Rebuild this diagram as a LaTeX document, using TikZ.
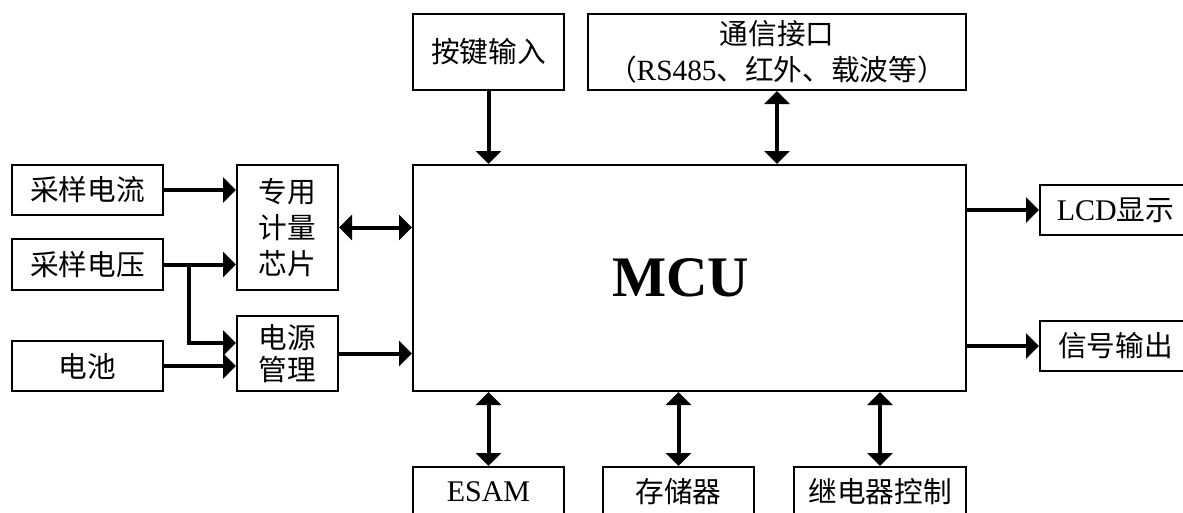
\documentclass[tikz,border=0pt]{standalone}
\usepackage{fontspec}
\setmainfont{Liberation Serif}
\newfontfamily\cjk{Noto Sans CJK SC}
\usetikzlibrary{arrows.meta,calc}
\newcommand\zhtxt[1]{{\cjk #1}}
\tikzset{
  box/.style={draw, line width=1.5pt, inner sep=0pt, align=center,
    font=\fontsize{21.5}{25}\selectfont},
  arr/.style={line width=3pt, -{Triangle[length=9.75pt,width=18.75pt]}},
  darr/.style={line width=3pt, {Triangle[length=9.75pt,width=18.75pt]}-{Triangle[length=9.75pt,width=18.75pt]}}
}
\begin{document}
\begin{tikzpicture}[x=0.75pt,y=-0.75pt]
\clip (0,0) rectangle (1183,512);
\fill[white] (0,0) rectangle (1183,512);
% boxes
\node[box, minimum width=113.25pt, minimum height=37.5pt] (cur) at (87.5,190) {\zhtxt{采样电流}};
\node[box, minimum width=113.25pt, minimum height=38.25pt] (vol) at (87.5,264.5) {\zhtxt{采样电压}};
\node[box, minimum width=113.25pt, minimum height=37.5pt] (bat) at (87.5,366) {\zhtxt{电池}};
\node[box, minimum width=75.75pt, minimum height=93.75pt, font=\fontsize{21.5}{27}\selectfont] (chip) at (287.5,227.5) {\zhtxt{专用}\\\zhtxt{计量}\\\zhtxt{芯片}};
\node[box, minimum width=75.75pt, minimum height=56.25pt, font=\fontsize{21.5}{23.5}\selectfont] (pwr) at (287.5,353.5) {\zhtxt{电源}\\\zhtxt{管理}};
\node[box, minimum width=414.75pt, minimum height=169.5pt] (mcu) at (689.5,278) {};
\node[font=\fontsize{43}{50}\selectfont\bfseries, inner sep=0pt] (mcutxt) at ($(mcu.center)+(-9,0)$) {MCU};
\node[box, minimum width=113.25pt, minimum height=57pt] (key) at (488.5,52) {\zhtxt{按键输入}};
\node[box, minimum width=283.5pt, minimum height=57pt, font=\fontsize{21.5}{27}\selectfont] (comm) at (777,52) {\zhtxt{通信接口}\\\zhtxt{（}{\fontsize{22}{26}\selectfont RS485}\zhtxt{、红外、载波等）}};
\node[box, minimum width=113.25pt, minimum height=37.5pt] (esam) at (488.5,492) {\fontsize{22.5}{26}\selectfont ESAM};
\node[box, minimum width=113.25pt, minimum height=37.5pt] (mem) at (678.5,492) {\zhtxt{存储器}};
\node[box, minimum width=129pt, minimum height=37.5pt] (relay) at (880,492) {\zhtxt{继电器控制}};
\node[box, minimum width=113.25pt, minimum height=37.5pt] (lcd) at (1115.5,210) {{\fontsize{22.5}{26}\selectfont LCD}\zhtxt{显示}};
\node[box, minimum width=113.25pt, minimum height=37.5pt] (sig) at (1115.5,346) {\zhtxt{信号输出}};
% connectors
\coordinate (vbr) at ($(vol.east)+(25,0)$);
\draw[arr] (cur.east) -- (chip.west |- cur.east);
\draw[arr] (vol.east) -- (chip.west |- vol.east);
\draw[arr] (vbr) |- ([yshift=7.9pt]pwr.west);
\draw[arr] (bat.east) -- (pwr.west |- bat.east);
\draw[darr] (chip.east) -- (mcu.west |- chip.east);
\draw[arr] (pwr.east) -- (mcu.west |- pwr.east);
\draw[arr] (key.south) -- (mcu.north -| key.south);
\draw[darr] (comm.south) -- (mcu.north -| comm.south);
\draw[arr] (mcu.east |- lcd.west) -- (lcd.west);
\draw[arr] (mcu.east |- sig.west) -- (sig.west);
\draw[darr] (mcu.south -| esam.north) -- (esam.north);
\draw[darr] (mcu.south -| mem.north) -- (mem.north);
\draw[darr] (mcu.south -| relay.north) -- (relay.north);
\end{tikzpicture}
\end{document}
